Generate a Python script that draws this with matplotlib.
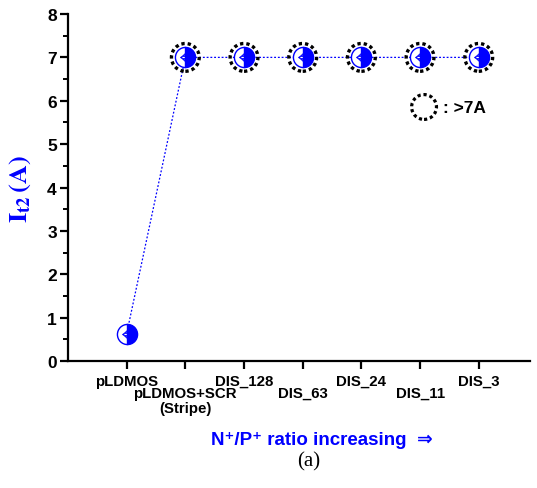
import matplotlib
matplotlib.use("Agg")
import matplotlib.pyplot as plt
from matplotlib.ticker import MultipleLocator

# Valeurs lues sur chaque structure
devices = ["pLDMOS", "pLDMOS+SCR\n(Stripe)", "DIS_128", "DIS_63", "DIS_24", "DIS_11", "DIS_3"]
it2 = [0.63, 7.0, 7.0, 7.0, 7.0, 7.0, 7.0]
over_7a = [False, True, True, True, True, True, True]

blue = "#0000ff"
sans = ["Liberation Sans", "DejaVu Sans"]
plt.rcParams["font.family"] = sans
plt.rcParams["font.weight"] = "bold"
plt.rcParams["mathtext.fontset"] = "stix"

fig = plt.figure(figsize=(5.37, 4.89), dpi=100)
ax = fig.add_axes([0.1266, 0.2597, 0.860, 0.7096])

x = list(range(1, len(devices) + 1))

# Ligne pointillée entre les points
ax.plot(x, it2, linestyle=(0, (1.5, 1.5)), color=blue, linewidth=0.9, zorder=2)

# Marqueurs à moitié remplis
ax.plot(x, it2, linestyle="none", marker="o", markersize=14.5, fillstyle="right",
        markerfacecolor=blue, markerfacecoloralt="white", markeredgecolor=blue,
        markeredgewidth=1.0, zorder=3)
ax.plot(x, it2, linestyle="none", marker=r"$\Leftarrow$", markersize=7.5,
        color=blue, markeredgewidth=0.3, zorder=4)

# Cercles pointillés : courant supérieur à 7 A
xs = [xi for xi, f in zip(x, over_7a) if f]
ys = [yi for yi, f in zip(it2, over_7a) if f]
ax.scatter(xs, ys, s=400, facecolors="none", edgecolors="black",
           linewidths=2.4, linestyles=(0, (1.0, 0.9)), zorder=5)

# Légende
ax.scatter([0.771], [0.732], s=320, facecolors="none", edgecolors="black",
           linewidths=2.3, linestyles=(0, (1.0, 0.9)), transform=ax.transAxes,
           clip_on=False)
ax.text(0.812, 0.732, ": >7A", transform=ax.transAxes, fontsize=12.5,
        fontweight="bold", va="center", ha="left")

ax.set_xlim(0, 7.87)
ax.set_ylim(0, 8)

ax.set_xticks(x)
ax.set_xticklabels(devices, fontsize=10.8, fontweight="bold", linespacing=1.05,
                   va="top")
# Étiquettes en quinconce
for i, tick in enumerate(ax.xaxis.get_major_ticks()):
    tick.set_pad(3 if i % 2 == 0 else 12)
ax.yaxis.set_major_locator(MultipleLocator(1))
ax.yaxis.set_minor_locator(MultipleLocator(0.5))
for lbl in ax.get_yticklabels():
    lbl.set_fontsize(12.5)
    lbl.set_fontweight("bold")

ax.spines["top"].set_visible(False)
ax.spines["right"].set_visible(False)
ax.spines["left"].set_linewidth(1.6)
ax.spines["bottom"].set_linewidth(1.6)
ax.tick_params(axis="x", which="major", direction="out", length=6, width=1.6)
ax.tick_params(axis="y", which="major", direction="out", length=6, width=1.6, pad=2)
ax.tick_params(axis="y", which="minor", direction="out", length=3.5, width=1.4)

ax.set_ylabel(r"$\mathbf{I_{t2}\,(A)}$", fontsize=19, color=blue, labelpad=10)

fig.text(0.60, 0.1, "N\u207a/P\u207a ratio increasing  \u21d2", color=blue, fontsize=13.5,
         fontweight="bold", ha="center", va="center", family=sans)
fig.text(0.574, 0.055, "(a)", fontsize=15, ha="center", va="center",
         family="Liberation Serif", fontweight="normal")

fig.savefig("out.png", dpi=100)
